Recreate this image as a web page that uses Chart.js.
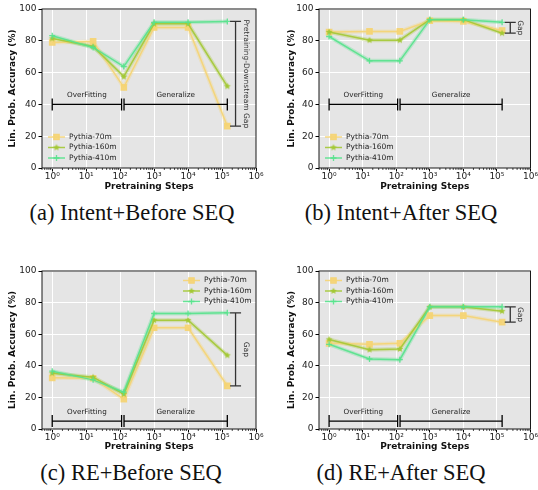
<!DOCTYPE html>
<html>
<head>
<meta charset="utf-8">
<script src="https://cdn.jsdelivr.net/npm/chart.js@4.4.0/dist/chart.umd.min.js"></script>
<style>
body { margin: 0; background: #fff; width: 538px; height: 490px; position: relative; overflow: hidden; }
canvas { position: absolute; }
.cap { position: absolute; font-family: "Liberation Serif", "Times New Roman", serif; font-size: 22.5px; color: #111; white-space: nowrap; transform: translateX(-50%); line-height: 26px; }
</style>
</head>
<body>
<canvas id="chartA" width="270" height="195" style="left:0;top:0"></canvas>
<canvas id="chartB" width="268" height="195" style="left:270px;top:0"></canvas>
<canvas id="chartC" width="270" height="195" style="left:0;top:260px"></canvas>
<canvas id="chartD" width="268" height="195" style="left:270px;top:260px"></canvas>
<div class="cap" style="left:132px;top:200px">(a) Intent+Before SEQ</div>
<div class="cap" style="left:401px;top:200px">(b) Intent+After SEQ</div>
<div class="cap" style="left:131px;top:460px">(c) RE+Before SEQ</div>
<div class="cap" style="left:401px;top:460px">(d) RE+After SEQ</div>
<script>
// pretraining checkpoints (x) and model names
const steps = [1, 16, 128, 1000, 10000, 143000];
const models = ['Pythia-70m', 'Pythia-160m', 'Pythia-410m'];
const yTicks = [0, 20, 40, 60, 80, 100];
const xTicks = [1, 10, 100, 1000, 10000, 100000, 1000000];

// (a) Intent + Before SEQ
const intentBefore70 = [79, 79.6, 50.7, 88.4, 88.4, 26.3];
const intentBefore160 = [81.5, 76.4, 57.5, 90.7, 90.7, 51.4];
const intentBefore410 = [83.2, 75.8, 63.8, 91.6, 91.6, 92.2];
// (b) Intent + After SEQ
const intentAfter70 = [85.5, 85.9, 85.9, 92.6, 92.2, 86.5];
const intentAfter160 = [85.5, 80.4, 80.4, 93.3, 93.3, 84.8];
const intentAfter410 = [82.7, 67.4, 67.4, 93.3, 93.3, 91.6];
// (c) RE + Before SEQ
const reBefore70 = [32.4, 32.1, 18.9, 64.1, 64.1, 27.3];
const reBefore160 = [35.3, 32.8, 22.1, 68.9, 68.9, 46.6];
const reBefore410 = [36.6, 31.1, 23.3, 73.1, 73.1, 73.5];
// (d) RE + After SEQ
const reAfter70 = [54.2, 53.6, 54.2, 71.8, 71.8, 67.6];
const reAfter160 = [56.7, 50.2, 50.6, 77.3, 77.3, 74.6];
const reAfter410 = [53.6, 44.3, 43.9, 77.3, 77.3, 77.3];

// phase brackets and gap marker
const phaseNames = ['OverFitting', 'Generalize'];
const phaseSpans = [[1, 110], [130, 143000]];
const gapStep = 250000;

const sup = ['\u2070', '\u00b9', '\u00b2', '\u00b3', '\u2074', '\u2075', '\u2076'];
const FONT = '"DejaVu Sans", Verdana, sans-serif';
const lineColors = ['rgba(245,212,115,0.9)', 'rgba(163,200,52,0.9)', 'rgba(86,226,140,0.9)'];
const bandColors = ['rgba(245,212,115,0.3)', 'rgba(163,200,52,0.3)', 'rgba(86,226,140,0.3)'];

function starImg(color, r) {
    const c = document.createElement('canvas');
    const s = Math.ceil(r * 2 + 2);
    c.width = s; c.height = s;
    const g = c.getContext('2d');
    g.fillStyle = color;
    g.beginPath();
    for (let i = 0; i < 10; i++) {
        const rr = i % 2 ? r * 0.45 : r;
        const a = -Math.PI / 2 + i * Math.PI / 5;
        g.lineTo(s / 2 + rr * Math.cos(a), s / 2 + rr * Math.sin(a));
    }
    g.closePath();
    g.fill();
    return c;
}
const markers = [
    { style: 'rect', radius: 3.8 },
    { style: starImg('rgba(163,200,52,1)', 3.6), radius: 3.5 },
    { style: 'cross', radius: 3 }
];

function drawMarker(ctx, i, x, y) {
    const m = markers[i];
    ctx.save();
    ctx.fillStyle = lineColors[i];
    ctx.strokeStyle = lineColors[i];
    ctx.lineWidth = 1.3;
    Chart.helpers.drawPoint(ctx, { pointStyle: m.style, radius: m.radius, rotation: 0, borderWidth: 1.3 }, x, y);
    ctx.restore();
}

const decor = {
    id: 'decor',
    beforeDraw(chart) {
        const { ctx, chartArea: a } = chart;
        ctx.save();
        ctx.fillStyle = '#e5e5e5';
        ctx.fillRect(a.left, a.top, a.width, a.height);
        ctx.restore();
    },
    afterDraw(chart, args, o) {
        const { ctx, chartArea: a, scales } = chart;
        const xs = scales.x, ys = scales.y;
        ctx.save();
        // spines
        ctx.strokeStyle = '#000';
        ctx.lineWidth = 0.9;
        ctx.strokeRect(a.left, a.top, a.width, a.height);
        // minor ticks on log axis
        ctx.lineWidth = 0.7;
        ctx.beginPath();
        for (let d = -1; d < 6; d++) {
            for (let k = 2; k < 10; k++) {
                const v = k * Math.pow(10, d);
                if (v < xs.min || v > xs.max) continue;
                const px = xs.getPixelForValue(v);
                ctx.moveTo(px, a.bottom);
                ctx.lineTo(px, a.bottom + 2);
            }
        }
        ctx.stroke();
        // phase brackets
        ctx.strokeStyle = '#000';
        ctx.lineWidth = 1.3;
        const by = ys.getPixelForValue(o.bracketY);
        phaseSpans.forEach((sp, i) => {
            const x0 = xs.getPixelForValue(sp[0]);
            const x1 = xs.getPixelForValue(sp[1]);
            ctx.beginPath();
            ctx.moveTo(x0, by); ctx.lineTo(x1, by);
            ctx.moveTo(x0, by - 6); ctx.lineTo(x0, by + 6);
            ctx.moveTo(x1, by - 6); ctx.lineTo(x1, by + 6);
            ctx.stroke();
            ctx.fillStyle = '#222';
            ctx.font = '7.2px ' + FONT;
            ctx.textAlign = 'center';
            ctx.textBaseline = 'middle';
            const mid = Math.sqrt(sp[0] * sp[1]);
            ctx.fillText(phaseNames[i], xs.getPixelForValue(mid), by - 9);
        });
        // gap marker between final checkpoints
        const last = o.series.map(s => s[s.length - 1]);
        const lo = Math.min(...last), hi = Math.max(...last);
        const gx = xs.getPixelForValue(gapStep);
        const y0 = ys.getPixelForValue(lo), y1 = ys.getPixelForValue(hi);
        ctx.strokeStyle = '#333';
        ctx.lineWidth = 1.3;
        ctx.beginPath();
        ctx.moveTo(gx, y0); ctx.lineTo(gx, y1);
        ctx.moveTo(gx - 5.5, y0); ctx.lineTo(gx + 5.5, y0);
        ctx.moveTo(gx - 5.5, y1); ctx.lineTo(gx + 5.5, y1);
        ctx.stroke();
        ctx.save();
        ctx.translate(gx + 10, (y0 + y1) / 2);
        ctx.rotate(Math.PI / 2);
        ctx.fillStyle = '#333';
        ctx.font = '7.5px ' + FONT;
        ctx.textAlign = 'center';
        ctx.textBaseline = 'middle';
        ctx.fillText(o.gapLabel, 0, 0);
        ctx.restore();
        // legend
        ctx.font = '7.5px ' + FONT;
        ctx.textAlign = 'left';
        ctx.textBaseline = 'middle';
        let lx, ly;
        if (o.legend === 'lowerleft') { lx = a.left + 6; ly = a.bottom - 31; }
        else if (o.legend === 'upperleft') { lx = a.left + 6; ly = a.top + 9.5; }
        else { lx = a.right - 73; ly = a.top + 9.5; }
        models.forEach((name, i) => {
            const yy = ly + i * 10.5;
            ctx.strokeStyle = lineColors[i];
            ctx.lineWidth = 1.5;
            ctx.beginPath();
            ctx.moveTo(lx, yy); ctx.lineTo(lx + 17, yy);
            ctx.stroke();
            drawMarker(ctx, i, lx + 8.5, yy);
            ctx.fillStyle = '#222';
            ctx.fillText(name, lx + 21, yy);
        });
        ctx.restore();
    }
};

function makePanel(id, s70, s160, s410, o) {
    const series = [s70, s160, s410];
    const datasets = [];
    series.forEach((s, i) => {
        datasets.push({
            label: models[i] + ' band',
            data: steps.map((x, j) => ({ x: x, y: s[j] })),
            borderColor: bandColors[i],
            borderWidth: 4,
            pointRadius: 0,
            order: 10 - i
        });
        datasets.push({
            label: models[i],
            data: steps.map((x, j) => ({ x: x, y: s[j] })),
            borderColor: lineColors[i],
            backgroundColor: lineColors[i],
            borderWidth: 1.5,
            pointStyle: markers[i].style,
            pointRadius: markers[i].radius,
            pointBorderWidth: 1.3,
            order: 3 - i
        });
    });
    return new Chart(document.getElementById(id), {
        type: 'line',
        data: { datasets: datasets },
        plugins: [decor],
        options: {
            responsive: false,
            animation: false,
            layout: { padding: { top: o.padTop, right: o.padRight, left: 0, bottom: 0 } },
            plugins: {
                legend: { display: false },
                tooltip: { enabled: false },
                decor: { bracketY: o.bracketY, gapLabel: o.gapLabel, legend: o.legend, series: series }
            },
            scales: {
                x: {
                    type: 'logarithmic',
                    min: 0.5,
                    max: 1000000,
                    afterBuildTicks: scale => { scale.ticks = xTicks.map(v => ({ value: v })); },
                    afterFit: scale => { scale.height = o.xHeight; },
                    grid: { color: '#fff', lineWidth: 1, tickColor: '#000', tickLength: 3.5 },
                    border: { display: false },
                    ticks: {
                        autoSkip: false,
                        maxRotation: 0,
                        padding: 0,
                        color: '#222',
                        font: { family: FONT, size: 9 },
                        callback: v => '10' + sup[Math.round(Math.log10(v))]
                    },
                    title: { display: true, text: 'Pretraining Steps', color: '#111', padding: { top: 0, bottom: 2.5 }, font: { family: FONT, size: 9, weight: 'bold' } }
                },
                y: {
                    min: 0,
                    max: 100,
                    afterBuildTicks: scale => { scale.ticks = yTicks.map(v => ({ value: v })); },
                    afterFit: scale => { scale.width = o.yWidth; },
                    grid: { color: '#fff', lineWidth: 1, tickColor: '#000', tickLength: 3.5 },
                    border: { display: false },
                    ticks: { padding: 2, color: '#222', font: { family: FONT, size: 9 } },
                    title: { display: true, text: 'Lin. Prob. Accuracy (%)', color: '#111', padding: { top: o.titlePad, bottom: 0 }, font: { family: FONT, size: 9, weight: 'bold' } }
                }
            }
        }
    });
}

makePanel('chartA', intentBefore70, intentBefore160, intentBefore410,
    { yWidth: 42, padTop: 9, padRight: 14, xHeight: 27, titlePad: 7.5, bracketY: 40, gapLabel: 'Pretraining-Downstream Gap', legend: 'lowerleft' });
makePanel('chartB', intentAfter70, intentAfter160, intentAfter410,
    { yWidth: 49, padTop: 9, padRight: 6, xHeight: 27, titlePad: 16, bracketY: 40, gapLabel: 'Gap', legend: 'lowerleft' });
makePanel('chartC', reBefore70, reBefore160, reBefore410,
    { yWidth: 42, padTop: 11, padRight: 14, xHeight: 26, titlePad: 7.5, bracketY: 5, gapLabel: 'Gap', legend: 'upperright' });
makePanel('chartD', reAfter70, reAfter160, reAfter410,
    { yWidth: 49, padTop: 11, padRight: 6, xHeight: 26, titlePad: 16, bracketY: 5, gapLabel: 'Gap', legend: 'upperleft' });
</script>
</body>
</html>
